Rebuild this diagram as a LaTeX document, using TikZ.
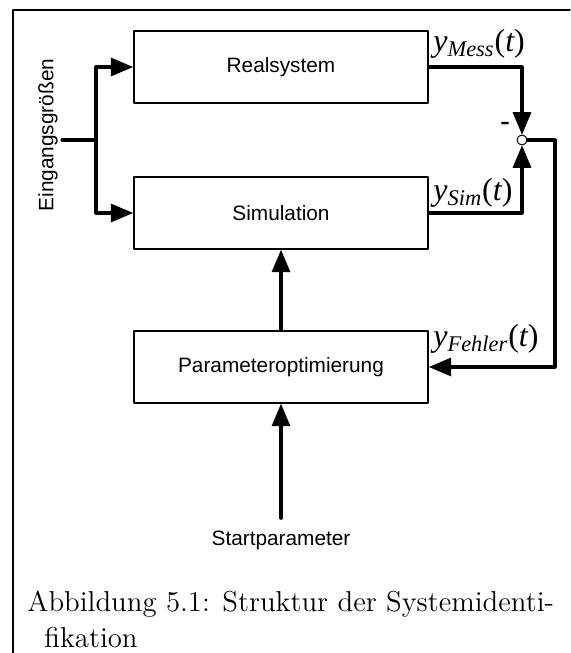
\documentclass[tikz,border=0pt]{standalone}
\usepackage{fontspec}
\newfontfamily\blockfont{Liberation Sans}
\newfontfamily\signalfont{Liberation Serif}
\usepackage{tikz}
\usetikzlibrary{arrows}

\newcommand{\signal}[1]{{\signalfont\fontsize{16}{18}\selectfont\itshape y\textsubscript{#1}\upshape(\itshape t\upshape)}}

\begin{document}
\begin{tikzpicture}[x=0.5pt,y=-0.5pt,line cap=round,line join=round,>=triangle 45,
    block/.style={draw,line width=0.9pt,minimum width=147pt,minimum height=36pt,font=\blockfont\fontsize{10.4}{12}\selectfont},
    plain/.style={font=\blockfont\fontsize{10.4}{12}\selectfont},
    signal/.style={line width=1.6pt},
    sigtext/.style={anchor=west,inner sep=0pt},
    captext/.style={anchor=base west,inner sep=0pt,font=\fontsize{14.4}{18}\selectfont}]
    \useasboundingbox (0,0) rectangle (570,653);
    \draw [line width=0.6pt] (13,653) -- (13,10) -- (570,10);
    \node [block] (real) at (281,67) {Realsystem};
    \node [block] (sim) at (281,213) {Simulation};
    \node [block] (param) at (281,367) {Parameteroptimierung};
    \node [plain,rotate=90,inner sep=2pt] (inputs) at (48,135) {Eingangsgrößen};
    \node [plain,inner sep=6pt] (start) at (281,540) {Startparameter};
    \node [draw,circle,fill=white,inner sep=0pt,minimum size=5pt,line width=0.5pt] (sum) at (522,140) {};
    \node [plain,font=\blockfont\fontsize{15}{16}\selectfont] (minus) at (505,127) {-};
    \node [sigtext] (ymess) at (433,44) {\signal{Mess}};
    \node [sigtext] (ysim) at (433,193) {\signal{Sim}};
    \node [sigtext] (yfehler) at (433,339) {\signal{Fehler}};
    \coordinate (branch) at (96,140);
    \coordinate (feedback) at (555,140);
    \draw [signal] (inputs.south |- branch) -- (branch);
    \draw [signal,->] (branch) |- (real.west);
    \draw [signal,->] (branch) |- (sim.west);
    \draw [signal,->] (real.east) -| (sum.north);
    \draw [signal,->] (sim.east) -| (sum.south);
    \draw [signal,->] (sum.east) -- (feedback) |- (param.east);
    \draw [signal,->] (param.north) -- (sim.south);
    \draw [signal,->] (start.north) -- (param.south);
    \node [captext] (cap1) at (27,611) {Abbildung 5.1: Struktur der Systemidenti-};
    \node [captext] (cap2) at (44,647) {fikation};
\end{tikzpicture}
\end{document}
